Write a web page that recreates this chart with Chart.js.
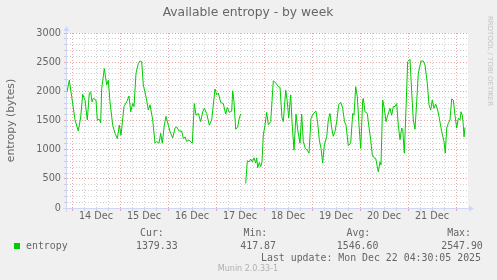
<!DOCTYPE html>
<html><head><meta charset="utf-8">
<script src="https://cdn.jsdelivr.net/npm/chart.js@4"></script>
<style>
html,body{margin:0;padding:0;background:#F0F0F0;}
#wrap{position:relative;width:497px;height:280px;overflow:hidden;background:#F0F0F0;}
canvas{position:absolute;left:0;top:0;}
.t{position:absolute;white-space:pre;color:#666;margin:0;}
.mono{font-family:"DejaVu Sans Mono",monospace;font-size:9.9px;line-height:12px;}
</style></head>
<body><div id="wrap"><canvas id="c" width="497" height="280"></canvas></div>
<script>
// ---- data (hours since 14 Dec 00:00, available entropy in bytes) ----
const hours = [-2.5,-1.35,-0.15,1.5,3.15,4.35,5.35,6.5,7.65,8.65,
9.35,10,10.65,12,12.65,13.65,14.35,14.85,16.15,17.35,
18.15,19,20.35,21.5,22.65,23.65,24.5,26,27.35,28.5,
29.35,30.35,31,32,33.15,34,34.85,35.65,37,38.15,
39,40.35,41.5,42.35,43.5,44.35,45.15,46.15,47,48.15,
49,50.35,51.5,52.35,53.5,54.85,55.65,56.5,57.35,58.5,
59.5,60.15,61.15,62,63.15,64.35,65.35,66.15,67.35,68.65,
69.85,71.5,72.35,73.15,74.35,75.65,76.85,77.65,78.65,79.85,
80.35,81,81.85,82.85,83.65,84.35,85.5,86.85,87.65,88.5,
89.35,90.15,91,91.85,92.35,92.85,93.65,94.35,95,95.65,
96.5,97.35,98.15,99.35,100.65,102,103.15,104,105,105.65,
106.85,107.65,108.35,109.35,110,111,112,112.85,114,114.85,
115.65,116.65,117.65,118.5,119.5,120.65,122,122.85,123.65,124.5,
125.35,126.15,127.35,128.15,129,129.85,130.65,131.5,132.35,133.35,
134.35,135.35,136.25,137,138.15,139.35,140.35,141,141.85,142.65,
143.5,144.35,145.35,145.65,146.5,147.65,148.35,149.35,150.15,151,
151.85,152.65,153.15,154,154.5,155.35,156.15,157,157.85,159,
159.85,160.65,161.5,162.35,163.15,164,164.85,165.35,166.15,167,
167.85,169,169.85,170.65,171.5,172.35,173.15,174.5,175.65,176.5,
177.65,178.5,179.35,180.15,181,181.85,182.85,183.65,184.85,186,
186.65,187.35,188.15,189,189.85,190.65,191.5,192.35,193.15,194,
194.5,195.15,195.65,196,196.5];
const entropy = [1990,2190,1910,1510,1320,1560,1950,1850,1510,1970,
1990,1820,1880,1850,1510,1520,1460,2050,2390,2110,
2190,1820,1420,1280,1190,1420,1250,1740,1820,1920,
1650,1790,1740,2310,2480,2520,2510,2110,1910,1680,
1770,1510,1110,1140,1110,1280,1110,1420,1570,1420,
1310,1200,1370,1390,1320,1320,1190,1220,1140,1170,
1130,1110,1790,1590,1620,1480,1650,1710,1620,1420,
1510,2040,1940,1970,1810,1790,1610,1720,1640,1660,
2010,1820,1350,1390,1540,1610,null,420,810,790,
840,790,860,770,860,690,780,710,790,1250,
1420,1640,1430,1480,2180,2140,2080,2070,1540,1480,
2020,1820,1540,1940,1480,990,1610,1340,1110,1610,
1140,1020,990,940,1540,1620,1660,1450,1170,1020,
770,1080,1220,1510,1620,1370,1230,1310,1480,1770,
1810,1710,1480,1420,1070,1110,1620,1590,2080,1910,
1420,1020,1850,1880,1650,1620,1420,1170,910,860,
850,710,620,790,740,1850,1710,1480,1590,1710,
1590,1740,1740,1790,1420,1170,1370,1350,940,1710,
2510,2548,1990,1510,1350,1820,2310,2520,2520,2450,
2140,1770,1680,1850,1710,1780,1680,1540,1310,1140,
940,1370,1450,1510,1870,1850,1590,1370,1540,1510,
1650,1590,1420,1220,1380];
const dayLabels = ['14 Dec','15 Dec','16 Dec','17 Dec','18 Dec','19 Dec','20 Dec','21 Dec'];
const yTickValues = [0,500,1000,1500,2000,2500,3000];
const seriesName = 'entropy';
const legendHeaders = ['Cur:','Min:','Avg:','Max:'];
const legendValues = ['1379.33','417.87','1546.60','2547.90'];
const titleText = 'Available entropy - by week';
const yTitle = 'entropy (bytes)';
const lastUpdate = 'Last update: Mon Dec 22 04:30:05 2025';
const footerText = 'Munin 2.0.33-1';
const watermark = 'RRDTOOL / TOBI OETIKER';

// ---- styles ----
const GREEN = '#00CC00', FONT = '#666666', AXIS = '#CFD6F8';
const MAJOR = '#eba3a3', MINOR = '#cfcfcf';
const xMin = -2.5, xMax = 198;

const points = hours.map((h, i) => ({x: h, y: entropy[i]}));

const plotDecor = {
  id: 'plotDecor',
  beforeDraw(chart) {
    const {ctx, chartArea: a} = chart;
    ctx.save();
    ctx.fillStyle = '#FFFFFF';
    ctx.fillRect(a.left, a.top, a.right - a.left, a.bottom - a.top);
    ctx.restore();
  },
  afterDraw(chart) {
    const {ctx, chartArea: a} = chart;
    ctx.save();
    ctx.strokeStyle = AXIS; ctx.fillStyle = AXIS; ctx.lineWidth = 1;
    const yb = Math.round(a.bottom) + 0.5, xl = Math.round(a.left) - 0.5;
    ctx.beginPath(); ctx.moveTo(a.left - 4, yb); ctx.lineTo(a.right + 2, yb); ctx.stroke();
    ctx.beginPath(); ctx.moveTo(a.right + 6, yb); ctx.lineTo(a.right + 1, yb - 3); ctx.lineTo(a.right + 1, yb + 3); ctx.closePath(); ctx.fill();
    ctx.beginPath(); ctx.moveTo(xl, a.bottom + 4); ctx.lineTo(xl, a.top - 2); ctx.stroke();
    ctx.beginPath(); ctx.moveTo(xl, a.top - 7); ctx.lineTo(xl - 3, a.top - 2); ctx.lineTo(xl + 3, a.top - 2); ctx.closePath(); ctx.fill();
    ctx.restore();
  }
};

new Chart(document.getElementById('c'), {
  type: 'line',
  data: { datasets: [{
    label: seriesName, data: points, borderColor: GREEN, borderWidth: 1,
    pointRadius: 0, tension: 0, spanGaps: false, fill: false
  }]},
  options: {
    responsive: false, animation: false, devicePixelRatio: 1,
    layout: { padding: { left: 0, top: 33, right: 29, bottom: 52 } },
    plugins: { legend: { display: false }, title: { display: false }, tooltip: { enabled: false } },
    scales: {
      x: {
        type: 'linear', min: xMin, max: xMax,
        afterBuildTicks(s) { const t = []; for (let v = 0; v <= 192; v += 6) t.push({value: v}); s.ticks = t; },
        afterFit(s) { s.height = 20; },
        border: { display: false, dash: [1, 2] },
        grid: {
          color: c => (c.tick && c.tick.value % 24 === 0) ? MAJOR : MINOR,
          tickColor: c => (c.tick && c.tick.value % 24 === 0) ? MAJOR : MINOR,
          tickBorderDash: [], tickLength: 3, lineWidth: 1
        },
        ticks: {
          autoSkip: false, maxRotation: 0, padding: 0, color: FONT,
          font: { family: 'DejaVu Sans', size: 9.7 },
          callback: v => (v % 24 === 12) ? dayLabels[(v - 12) / 24] : ''
        }
      },
      y: {
        min: 0, max: 3000,
        ticks: {
          stepSize: 100, autoSkip: false, padding: 3, color: FONT,
          font: { family: 'DejaVu Sans', size: 9.7 },
          callback: v => yTickValues.includes(v) ? String(v) : ''
        },
        afterFit(s) { s.width = 67; },
        border: { display: false, dash: [1, 2] },
        grid: {
          color: c => (c.tick && yTickValues.includes(c.tick.value)) ? MAJOR : MINOR,
          tickColor: c => (c.tick && yTickValues.includes(c.tick.value)) ? MAJOR : MINOR,
          tickBorderDash: [], tickLength: 3, lineWidth: 1
        },
        title: { display: true, text: yTitle, color: FONT, padding: { top: 4.7, bottom: 0 },
                 font: { family: 'DejaVu Sans', size: 10.8 } }
      }
    }
  },
  plugins: [plotDecor]
});

// ---- text outside the plot (title, legend, footer) ----
const wrap = document.getElementById('wrap');
function addText(txt, css, cls) {
  const d = document.createElement('div');
  d.className = 't' + (cls ? ' ' + cls : '');
  d.textContent = txt;
  Object.assign(d.style, css);
  wrap.appendChild(d);
  return d;
}
addText(titleText, {left: '0px', width: '496px', textAlign: 'center', top: '5.3px',
  fontFamily: 'DejaVu Sans', fontSize: '12.3px', lineHeight: '15px'});
addText(watermark, {left: '489.5px', top: '61px', transform: 'translate(-50%,-50%) rotate(90deg)',
  fontFamily: 'DejaVu Sans', fontSize: '7px', lineHeight: '8px', color: '#c4c4c4'});
const sw = document.createElement('div');
Object.assign(sw.style, {position: 'absolute', left: '14px', top: '242.5px', width: '6px', height: '6px', background: GREEN});
wrap.appendChild(sw);
addText(seriesName, {left: '26px', top: '239.6px'}, 'mono');
const headerLeft = [140, 243.5, 346.5, 447.2];
const valueLeft = [136, 240.3, 336.8, 441.2];
legendHeaders.forEach((h, i) => addText(h, {left: headerLeft[i] + 'px', top: '227.3px'}, 'mono'));
legendValues.forEach((v, i) => addText(v, {left: valueLeft[i] + 'px', top: '239.6px'}, 'mono'));
addText(lastUpdate, {left: '261px', top: '251.8px'}, 'mono');
addText(footerText, {left: '148px', width: '200px', textAlign: 'center', top: '263.9px',
  fontFamily: 'DejaVu Sans', fontSize: '8px', lineHeight: '10px', color: '#b0b0b0'});
</script>
</body></html>
